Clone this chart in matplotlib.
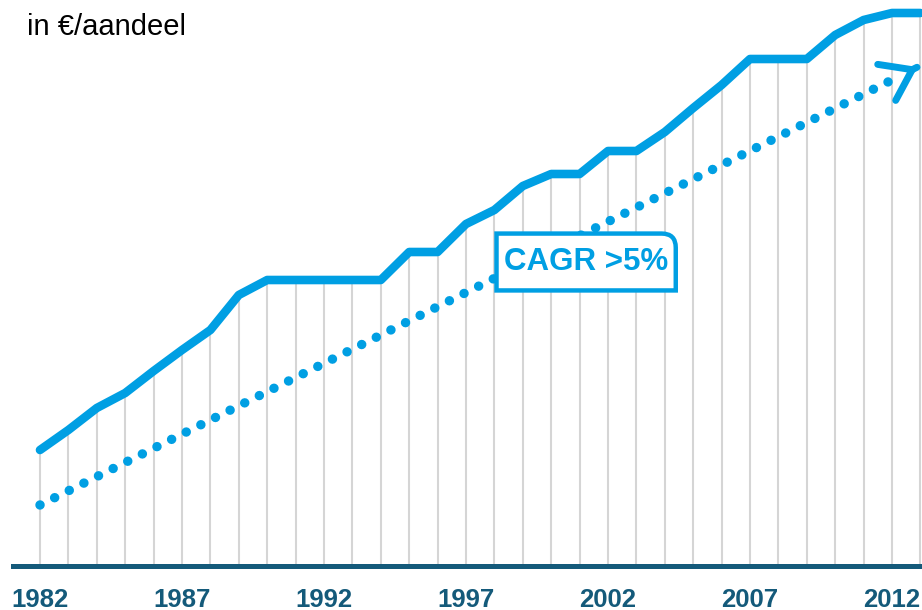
import numpy as np
import matplotlib
matplotlib.use('Agg')
import matplotlib.pyplot as plt
from matplotlib.path import Path

# ------ data --------
years = np.arange(1982, 2014)
dividend = [1.16, 1.36, 1.58, 1.73, 1.95, 2.16, 2.36, 2.71, 2.86, 2.86,
            2.86, 2.86, 2.86, 3.14, 3.14, 3.42, 3.56, 3.80, 3.92, 3.92,
            4.15, 4.15, 4.34, 4.58, 4.81, 5.07, 5.07, 5.07, 5.31, 5.46,
            5.53, 5.53]
tick_years = [1982, 1987, 1992, 1997, 2002, 2007, 2012]
trend_years = [1982, 2012.35]
trend_vals = [0.61, 4.91]
arrow_tip = (2012.9, 4.99)
cagr_label = 'CAGR >5%'
unit_label = 'in €/aandeel'

BLUE = '#009FE3'
DARK = '#145A7A'
GREY = '#D5D5D5'

plt.rcParams['font.family'] = ['Liberation Sans', 'DejaVu Sans']


def tab_box(x0, y0, width, height, mutation_size):
    # square box, only the top right corner rounded
    padx = 0.24 * mutation_size
    pady = 0.43 * mutation_size
    x0, y0 = x0 - padx, y0 - pady
    x1, y1 = x0 + width + 2 * padx, y0 + height + 2 * pady
    r = 0.45 * mutation_size
    verts = [(x0, y0), (x1, y0), (x1, y1 - r), (x1, y1), (x1 - r, y1),
             (x0, y1), (x0, y0)]
    codes = [Path.MOVETO, Path.LINETO, Path.LINETO, Path.CURVE3, Path.CURVE3,
             Path.LINETO, Path.CLOSEPOLY]
    return Path(verts, codes)


fig = plt.figure(figsize=(9.22, 6.10), dpi=100)
ax = fig.add_axes([0, 44 / 610, 1, 566 / 610])
ax.set_xlim(1980.592, 2013.056)
ax.set_ylim(0, 5.66)

ax.vlines(years, 0, dividend, color=GREY, lw=1.5, zorder=1)
ax.plot(trend_years, trend_vals, color=BLUE, lw=6.8,
        linestyle=(0, (0.01, 1.72)), dash_capstyle='round', zorder=2)
ax.annotate('', xy=arrow_tip,
            xytext=(arrow_tip[0] - 0.02, arrow_tip[1] - 0.02 * 0.1417),
            arrowprops=dict(arrowstyle='->,head_length=20.5,head_width=14.5',
                            mutation_scale=1, lw=5.0, color=BLUE,
                            shrinkA=0, shrinkB=0, capstyle='round',
                            joinstyle='miter'),
            zorder=5)
ax.plot(years, dividend, color=BLUE, lw=6.2, solid_capstyle='round',
        solid_joinstyle='round', zorder=4)

ax.text(2001.23, 3.04, cagr_label, ha='center', va='center',
        fontsize=22.5, fontweight='bold', color=BLUE, zorder=3,
        bbox=dict(boxstyle=tab_box, facecolor='white', edgecolor=BLUE,
                  lw=3.2))

for s in ['top', 'right', 'left']:
    ax.spines[s].set_visible(False)
ax.spines['bottom'].set_color(DARK)
ax.spines['bottom'].set_linewidth(3.6)
ax.spines['bottom'].set_bounds(1981.05, 2013.056)
ax.spines['bottom'].set_zorder(6)
ax.set_yticks([])
ax.set_xticks(tick_years)
ax.set_xticklabels([str(y) for y in tick_years])
ax.tick_params(axis='x', length=0, pad=15.5, labelsize=18.5, labelcolor=DARK)
for lab in ax.get_xticklabels():
    lab.set_fontweight('bold')

fig.text(27 / 922, 1 - 35 / 610, unit_label, fontsize=21, color='black',
         va='baseline', ha='left')

fig.savefig('out.png', dpi=100)
